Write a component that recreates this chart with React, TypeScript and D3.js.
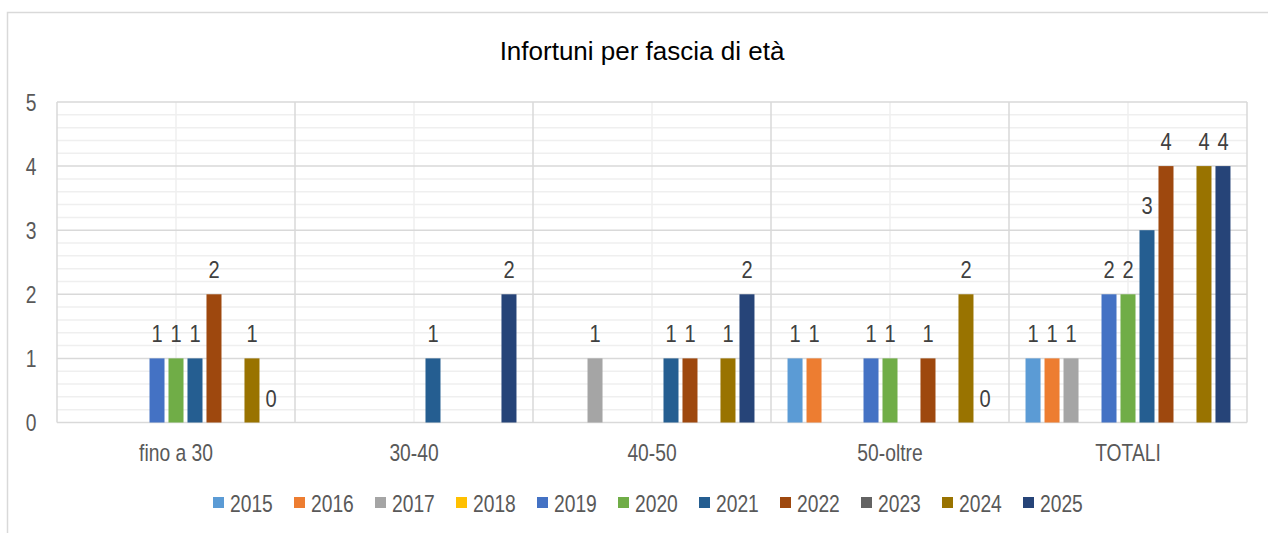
import React from "react";
import * as d3 from "d3";

const title = "Infortuni per fascia di età";
const categories = ["fino a 30", "30-40", "40-50", "50-oltre", "TOTALI"];
const years = ["2015", "2016", "2017", "2018", "2019", "2020", "2021", "2022", "2023", "2024", "2025"];
const colors = ["#5B9BD5", "#ED7D31", "#A5A5A5", "#FFC000", "#4472C4", "#70AD47", "#255E91", "#9E480E", "#636363", "#997300", "#264478"];

const v2015 = [null, null, null, 1, 1];
const v2016 = [null, null, null, 1, 1];
const v2017 = [null, null, 1, null, 1];
const v2018 = [null, null, null, null, null];
const v2019 = [1, null, null, 1, 2];
const v2020 = [1, null, null, 1, 2];
const v2021 = [1, 1, 1, null, 3];
const v2022 = [2, null, 1, 1, 4];
const v2023 = [null, null, null, null, null];
const v2024 = [1, null, 1, 2, 4];
const v2025 = [0, 2, 2, 0, 4];
const seriesValues: (number | null)[][] = [v2015, v2016, v2017, v2018, v2019, v2020, v2021, v2022, v2023, v2024, v2025];

const yTicks = [0, 1, 2, 3, 4, 5];

const W = 1268;
const H = 533;
const plot = { left: 57, right: 1247, top: 102, bottom: 422.5 };
const FONT = "'Liberation Sans', Arial, sans-serif";
const NARROW = 0.82;

function T(props: {
  x: number;
  y: number;
  size: number;
  fill: string;
  anchor?: "start" | "middle" | "end";
  children: React.ReactNode;
}) {
  return (
    <text
      transform={`translate(${props.x},${props.y}) scale(${NARROW},1)`}
      x={0}
      y={0}
      textAnchor={props.anchor || "start"}
      fontFamily={FONT}
      fontSize={props.size}
      fill={props.fill}
    >
      {props.children}
    </text>
  );
}

export default function App() {
  const x0 = d3.scaleBand<string>().domain(categories).range([plot.left, plot.right]).padding(0);
  const x1 = d3
    .scaleBand<string>()
    .domain(years)
    .range([0, x0.bandwidth()])
    .paddingInner(0.21)
    .paddingOuter(0.87);
  const y = d3.scaleLinear().domain([0, 5]).range([plot.bottom, plot.top]);

  const minorY = d3.range(0, 5.0001, 0.2).filter((v) => Math.abs(v - Math.round(v)) > 1e-6);
  const boundaries = categories.map((c) => x0(c)!).concat([plot.right]);

  const legendStart = 213;
  const legendStep = 81;
  const legendY = 503;

  return (
    <svg width={W} height={H} style={{ position: "absolute", left: 0, top: 0, background: "#fff" }}>
      <rect x={0} y={0} width={W} height={H} fill="#fff" />
      <rect x={7.5} y={12.5} width={1270} height={540} fill="none" stroke="#d9d9d9" strokeWidth={1.5} />
      <text x={642} y={60} textAnchor="middle" fontFamily={FONT} fontSize={26} fill="#000">
        {title}
      </text>
      {/* minor gridlines */}
      {minorY.map((v, i) => (
        <line key={"mh" + i} x1={plot.left} x2={plot.right} y1={y(v)} y2={y(v)} stroke="#efefef" strokeWidth={1.5} />
      ))}
      {categories.map((c) => (
        <line
          key={"mv" + c}
          x1={x0(c)! + x0.bandwidth() / 2}
          x2={x0(c)! + x0.bandwidth() / 2}
          y1={plot.top}
          y2={plot.bottom}
          stroke="#efefef"
          strokeWidth={1.5}
        />
      ))}
      {/* major gridlines */}
      {yTicks.map((v) => (
        <line key={"h" + v} x1={plot.left} x2={plot.right} y1={y(v)} y2={y(v)} stroke="#d9d9d9" strokeWidth={1.5} />
      ))}
      {boundaries.map((bx, i) => (
        <line key={"v" + i} x1={bx} x2={bx} y1={plot.top} y2={plot.bottom} stroke="#d9d9d9" strokeWidth={1.5} />
      ))}
      {/* y tick labels */}
      {yTicks.map((v) => (
        <T key={"yt" + v} x={36.5} y={y(v) + 8.5} anchor="end" size={23.5} fill="#595959">
          {v}
        </T>
      ))}
      {/* bars */}
      {years.map((yr, si) =>
        categories.map((c, ci) => {
          const v = seriesValues[si][ci];
          if (v === null || v === undefined) return null;
          const bx = x0(c)! + x1(yr)!;
          return (
            <g key={yr + c}>
              {v > 0 && <rect x={bx} y={y(v)} width={x1.bandwidth()} height={y(0) - y(v)} fill={colors[si]} />}
              <T x={bx + x1.bandwidth() / 2} y={y(v) - 16} anchor="middle" size={24.5} fill="#404040">
                {v}
              </T>
            </g>
          );
        })
      )}
      {/* category labels */}
      {categories.map((c) => (
        <T key={"cl" + c} x={x0(c)! + x0.bandwidth() / 2} y={461} anchor="middle" size={23.5} fill="#595959">
          {c}
        </T>
      ))}
      {/* legend */}
      {years.map((yr, i) => (
        <g key={"lg" + yr} transform={`translate(${legendStart + i * legendStep},${legendY})`}>
          <rect x={0} y={-6} width={11} height={11} fill={colors[i]} />
          <T x={17} y={8.5} size={23.5} fill="#595959">
            {yr}
          </T>
        </g>
      ))}
    </svg>
  );
}
